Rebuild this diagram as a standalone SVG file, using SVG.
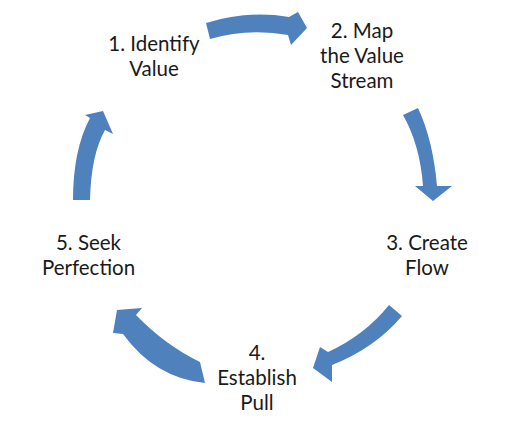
<svg xmlns="http://www.w3.org/2000/svg" width="512" height="435" viewBox="0 0 512 435">
<style>
.arr{fill:#4F81BD;stroke:none}
.lbl{font-family:Lato,"Liberation Sans",sans-serif;font-size:20.5px;fill:#1a1a1a;text-anchor:middle}
</style>
<rect width="512" height="435" fill="#ffffff"/>
<g id="connectors">
<path class="arr" d="M206,23 Q248,10 289,17 L298,12 L307,28 L291,45 L288,35 Q249,28 210,39 Z"/>
<path class="arr" d="M403,115 L418,108 Q433,140 437,186 L452,186 L433,201 L415,186 L423,186 Q420,145 403,115 Z"/>
<path class="arr" d="M389,305 L402,316 Q375,348 332,365 L332,382 L313,368 L320,347 L328,352 Q365,335 389,305 Z"/>
<path class="arr" d="M200,362 L205,383 Q155,378 123,334 L113,333 L117,310 L142,308 L136,315 Q165,345 200,362 Z"/>
<path class="arr" d="M73,200 Q73,150 90,118 L85,115 L103,111 L113,134 L105,130 Q91,155 90,200 Z"/>
</g>
<g id="node1"><text class="lbl" x="154" y="51">1. Identify</text><text class="lbl" x="154" y="76">Value</text></g>
<g id="node2"><text class="lbl" x="362" y="38">2. Map</text><text class="lbl" x="362" y="63">the Value</text><text class="lbl" x="362" y="88">Stream</text></g>
<g id="node3"><text class="lbl" x="427" y="250">3. Create</text><text class="lbl" x="427" y="275">Flow</text></g>
<g id="node4"><text class="lbl" x="257" y="360">4.</text><text class="lbl" x="257" y="385">Establish</text><text class="lbl" x="257" y="410">Pull</text></g>
<g id="node5"><text class="lbl" x="88.5" y="250">5. Seek</text><text class="lbl" x="88.5" y="275">Perfection</text></g>
</svg>
